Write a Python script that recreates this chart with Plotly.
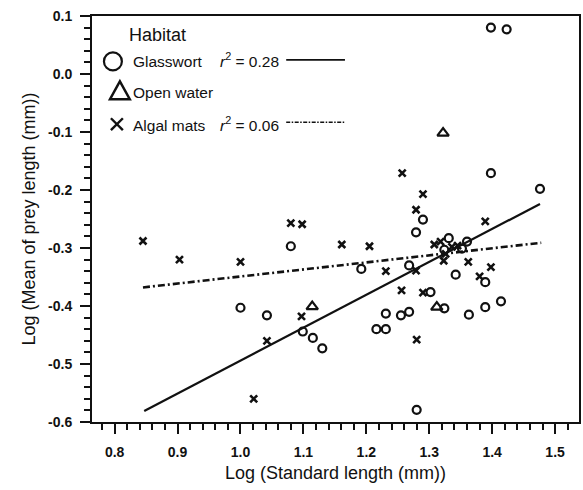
import plotly.graph_objects as go

# ---------------- data ----------------
glass_x = [1.398, 1.423, 1.398, 1.476, 1.290, 1.279, 1.331, 1.360, 1.080, 1.352,
           1.324, 1.192, 1.268, 1.342, 1.389, 1.302, 1.000, 1.042, 1.099, 1.115,
           1.130, 1.231, 1.216, 1.231, 1.255, 1.268, 1.324, 1.363, 1.389, 1.414,
           1.280]
glass_y = [0.080, 0.077, -0.171, -0.198, -0.251, -0.273, -0.283, -0.289, -0.297, -0.301,
           -0.303, -0.336, -0.330, -0.346, -0.359, -0.376, -0.403, -0.416, -0.444, -0.455,
           -0.473, -0.413, -0.440, -0.440, -0.416, -0.410, -0.404, -0.415, -0.402, -0.392,
           -0.579]

open_x = [1.322, 1.114, 1.312]
open_y = [-0.102, -0.401, -0.402]

algal_x = [0.845, 0.903, 1.000, 1.021, 1.042, 1.080, 1.098, 1.097, 1.161, 1.205,
           1.231, 1.257, 1.290, 1.279, 1.279, 1.256, 1.290, 1.280, 1.389, 1.323,
           1.362, 1.398, 1.380, 1.308, 1.318, 1.336, 1.345, 1.326]
algal_y = [-0.288, -0.320, -0.324, -0.560, -0.460, -0.257, -0.259, -0.418, -0.294, -0.297,
           -0.340, -0.171, -0.207, -0.234, -0.339, -0.373, -0.377, -0.458, -0.254, -0.322,
           -0.324, -0.333, -0.349, -0.294, -0.289, -0.298, -0.296, -0.310]

glass_fit_x = [0.847, 1.476]
glass_fit_y = [-0.581, -0.224]
algal_fit_x = [0.845, 1.478]
algal_fit_y = [-0.368, -0.291]

x_tickvals = [0.8, 0.9, 1.0, 1.1, 1.2, 1.3, 1.4, 1.5]
x_ticktext = ["0.8", "0.9", "1.0", "1.1", "1.2", "1.3", "1.4", "1.5"]
y_tickvals = [-0.6, -0.5, -0.4, -0.3, -0.2, -0.1, 0.0, 0.1]
y_ticktext = ["-0.6", "-0.5", "-0.4", "-0.3", "-0.2", "-0.1", "0.0", "0.1"]

legend_title = "Habitat"
legend_names = ["Glasswort", "Open water", "Algal mats"]
r2_texts = ["<i>r</i><sup>2</sup> = 0.28", "<i>r</i><sup>2</sup> = 0.06"]
x_title = "Log (Standard length (mm))"
y_title = "Log (Mean of prey length (mm))"

# ---------------- layout geometry ----------------
W, H = 583, 490
ML, MR, MT, MB = 92, 2, 15.5, 67.5
PW, PH = W - ML - MR, H - MT - MB
FONT = "Liberation Sans, Arial, Helvetica, sans-serif"
BLACK = "#111111"


def px(x):
    return (x - ML) / PW


def py(y):
    return (H - MB - y) / PH


fig = go.Figure()

fig.add_trace(go.Scatter(x=glass_fit_x, y=glass_fit_y, mode="lines",
                         line=dict(color=BLACK, width=2.2), showlegend=False))
fig.add_trace(go.Scatter(x=algal_fit_x, y=algal_fit_y, mode="lines",
                         line=dict(color=BLACK, width=2.6, dash="7px,3px,2px,3px"),
                         showlegend=False))
fig.add_trace(go.Scatter(x=glass_x, y=glass_y, mode="markers",
                         marker=dict(symbol="circle-open", size=8, color=BLACK,
                                     line=dict(width=2.2, color=BLACK)),
                         showlegend=False))
fig.add_trace(go.Scatter(x=open_x, y=open_y, mode="markers",
                         marker=dict(symbol="triangle-up-open", size=10, color=BLACK,
                                     line=dict(width=2.2, color=BLACK)),
                         showlegend=False))
fig.add_trace(go.Scatter(x=algal_x, y=algal_y, mode="markers",
                         marker=dict(symbol="x-thin-open", size=7, color=BLACK,
                                     line=dict(width=2.6, color=BLACK)),
                         showlegend=False))

axis_common = dict(
    showline=True, linecolor=BLACK, linewidth=2, mirror=True,
    showgrid=False, zeroline=False,
    ticks="outside", ticklen=10, tickwidth=2, tickcolor=BLACK,
    tickfont=dict(family=FONT, size=14, color=BLACK, weight="bold"),
    title_font=dict(family=FONT, size=18, color=BLACK),
)

fig.update_xaxes(range=[0.764, 1.538], tickvals=x_tickvals, ticktext=x_ticktext,
                 minor=dict(tick0=0.8, dtick=0.02, ticks="outside", ticklen=6,
                            tickwidth=2, tickcolor=BLACK),
                 ticklabelstandoff=6,
                 title=dict(text=x_title, standoff=8), **axis_common)
fig.update_yaxes(range=[-0.6, 0.1], tickvals=y_tickvals, ticktext=y_ticktext,
                 minor=dict(tick0=-0.6, dtick=0.02, ticks="outside", ticklen=6,
                            tickwidth=2, tickcolor=BLACK),
                 ticklabelstandoff=5,
                 title=dict(text=y_title, standoff=8), **axis_common)

# ---------------- hand-built legend ----------------
shapes = []
# circle symbol
shapes.append(dict(type="circle", xref="paper", yref="paper",
                   x0=px(104), x1=px(122), y0=py(70), y1=py(52),
                   line=dict(color=BLACK, width=2.2)))
# triangle symbol
shapes.append(dict(type="path", xref="paper", yref="paper",
                   path=f"M {px(110)} {py(99)} L {px(130)} {py(99)} L {px(120)} {py(81)} Z",
                   line=dict(color=BLACK, width=2.4)))
# X symbol
shapes.append(dict(type="line", xref="paper", yref="paper",
                   x0=px(111), y0=py(118), x1=px(123), y1=py(130),
                   line=dict(color=BLACK, width=2.4)))
shapes.append(dict(type="line", xref="paper", yref="paper",
                   x0=px(111), y0=py(130), x1=px(123), y1=py(118),
                   line=dict(color=BLACK, width=2.4)))
# line samples
shapes.append(dict(type="line", xref="paper", yref="paper",
                   x0=px(287), y0=py(59.5), x1=px(346), y1=py(59.5),
                   line=dict(color=BLACK, width=1.8)))
shapes.append(dict(type="line", xref="paper", yref="paper",
                   x0=px(287), y0=py(122), x1=px(346), y1=py(122),
                   line=dict(color=BLACK, width=1.6, dash="4px,1.5px,1.5px,1.5px")))

annotations = [
    dict(text=legend_title, x=px(127), y=py(35), xanchor="left", yanchor="middle",
         font=dict(family=FONT, size=18, color=BLACK)),
    dict(text=legend_names[0], x=px(131), y=py(61), xanchor="left", yanchor="middle",
         font=dict(family=FONT, size=15.5, color=BLACK)),
    dict(text=legend_names[1], x=px(131), y=py(92), xanchor="left", yanchor="middle",
         font=dict(family=FONT, size=15.5, color=BLACK)),
    dict(text=legend_names[2], x=px(131), y=py(125), xanchor="left", yanchor="middle",
         font=dict(family=FONT, size=15.5, color=BLACK)),
    dict(text=r2_texts[0], x=px(219), y=py(60), xanchor="left", yanchor="middle",
         font=dict(family=FONT, size=15.5, color=BLACK)),
    dict(text=r2_texts[1], x=px(219), y=py(124), xanchor="left", yanchor="middle",
         font=dict(family=FONT, size=15.5, color=BLACK)),
]
for a in annotations:
    a.update(xref="paper", yref="paper", showarrow=False)

fig.update_layout(
    width=W, height=H,
    margin=dict(l=ML, r=MR, t=MT, b=MB, pad=0),
    paper_bgcolor="white", plot_bgcolor="white",
    shapes=shapes, annotations=annotations,
    showlegend=False,
    font=dict(family=FONT, color=BLACK),
)

fig.write_html("out.html")
